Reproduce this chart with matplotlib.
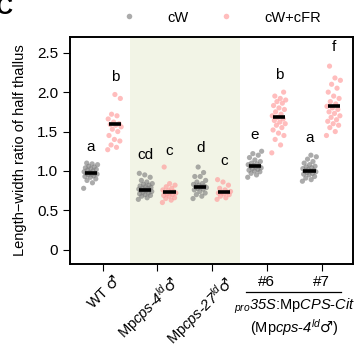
import numpy as np
import matplotlib
matplotlib.use("Agg")
import matplotlib.pyplot as plt
from matplotlib.lines import Line2D

plt.rcParams['font.family'] = ['Liberation Sans', 'DejaVu Sans']
plt.rcParams['mathtext.fontset'] = 'custom'
plt.rcParams['mathtext.rm'] = 'Liberation Sans'
plt.rcParams['mathtext.it'] = 'Liberation Sans:italic'
plt.rcParams['mathtext.bf'] = 'Liberation Sans:italic'   # italic digits
plt.rcParams['mathtext.sf'] = 'DejaVu Sans'              # male sign

MALE = r'$\mathsf{' + '\u2642' + '}$'

# data
wt_cw = [0.78, 0.85, 0.88, 0.90, 0.92, 0.93, 0.94, 0.95, 0.96, 0.96, 0.97, 0.97,
         0.98, 0.99, 1.00, 1.01, 1.02, 1.03, 1.04, 1.05, 1.06, 1.08, 1.09, 1.10]
wt_fr = [1.27, 1.30, 1.33, 1.38, 1.40, 1.45, 1.50, 1.53, 1.56, 1.58, 1.59, 1.60,
         1.62, 1.66, 1.70, 1.72, 1.92, 1.97]
cps4_cw = [0.64, 0.66, 0.68, 0.69, 0.70, 0.71, 0.72, 0.73, 0.74, 0.75, 0.75, 0.76,
           0.76, 0.77, 0.78, 0.78, 0.79, 0.80, 0.81, 0.82, 0.83, 0.84, 0.86, 0.88,
           0.92, 0.95, 0.97]
cps4_fr = [0.60, 0.63, 0.65, 0.66, 0.68, 0.69, 0.70, 0.71, 0.72, 0.73, 0.73, 0.74,
           0.75, 0.76, 0.78, 0.80, 0.82, 0.84, 1.05]
cps27_cw = [0.65, 0.68, 0.70, 0.72, 0.74, 0.76, 0.77, 0.78, 0.79, 0.80, 0.80, 0.81,
            0.82, 0.83, 0.84, 0.86, 0.88, 0.93, 0.93, 0.98, 1.05]
cps27_fr = [0.64, 0.66, 0.68, 0.70, 0.71, 0.72, 0.73, 0.73, 0.74, 0.76, 0.78, 0.82,
            0.86, 0.89]
l6_cw = [0.92, 0.95, 0.97, 0.99, 1.00, 1.01, 1.02, 1.03, 1.04, 1.05, 1.06, 1.06,
         1.07, 1.08, 1.09, 1.10, 1.12, 1.14, 1.17, 1.20, 1.22, 1.25]
l6_fr = [1.23, 1.33, 1.40, 1.45, 1.48, 1.52, 1.55, 1.58, 1.60, 1.62, 1.64, 1.66,
         1.68, 1.70, 1.72, 1.75, 1.78, 1.80, 1.83, 1.86, 1.88, 1.90, 1.92, 1.95, 2.00]
l7_cw = [0.87, 0.89, 0.91, 0.93, 0.95, 0.96, 0.97, 0.98, 0.99, 1.00, 1.00, 1.01,
         1.02, 1.03, 1.04, 1.05, 1.06, 1.08, 1.10, 1.12, 1.15, 1.18, 1.20]
l7_fr = [1.45, 1.50, 1.55, 1.58, 1.60, 1.63, 1.65, 1.68, 1.70, 1.73, 1.75, 1.78,
         1.80, 1.82, 1.85, 1.88, 1.92, 1.95, 2.00, 2.05, 2.10, 2.15, 2.18, 2.33]

cw_groups = [wt_cw, cps4_cw, cps27_cw, l6_cw, l7_cw]
fr_groups = [wt_fr, cps4_fr, cps27_fr, l6_fr, l7_fr]
cw_means = [0.97, 0.76, 0.80, 1.06, 1.00]
fr_means = [1.59, 0.73, 0.73, 1.68, 1.82]
cw_letters = ['a', 'cd', 'd', 'e', 'a']
fr_letters = ['b', 'c', 'c', 'b', 'f']
cw_letter_y = [1.22, 1.11, 1.20, 1.37, 1.33]
fr_letter_y = [2.10, 1.17, 1.04, 2.13, 2.48]

fig = plt.figure(figsize=(3.57, 3.52), dpi=100)
ax = fig.add_axes([0.196, 0.25, 0.792, 0.645])

ax.axvspan(0.5, 2.5, color='#f2f4e6', zorder=0, lw=0)

dodge = 0.22
for i in range(5):
    for vals, off, col, mean, let, ly in [
            (cw_groups[i], -dodge, '#7f7f7f', cw_means[i], cw_letters[i], cw_letter_y[i]),
            (fr_groups[i], dodge, '#ff9a9a', fr_means[i], fr_letters[i], fr_letter_y[i])]:
        n = len(vals)
        jit = (((np.arange(n) * 0.618034) % 1) - 0.5) * 0.26
        ax.scatter(i + off + jit, vals, s=14, color=col, alpha=0.65,
                   edgecolors='none', zorder=2)
        ax.plot([i + off - 0.11, i + off + 0.11], [mean, mean], color='black',
                lw=2.6, solid_capstyle='butt', zorder=3)
        ax.text(i + off, ly, let, ha='center', va='bottom', fontsize=11)

ax.set_xlim(-0.6, 4.57)
ax.set_ylim(-0.18, 2.70)
ax.set_yticks([0, 0.5, 1.0, 1.5, 2.0, 2.5])
ax.set_yticklabels(['0', '0.5', '1.0', '1.5', '2.0', '2.5'], fontsize=11)
ax.set_xticks(range(5))
ax.set_xticklabels([])
ax.tick_params(length=5, width=0.8)
for sp in ax.spines.values():
    sp.set_linewidth(1.4)
ax.set_ylabel('Length\u2212width ratio of half thallus', fontsize=10.5, labelpad=7)

# rotated genotype labels
rot_labels = ['WT ' + MALE,
              r'Mp$cps$-$\mathbf{4}^{ld}$' + MALE,
              r'Mp$cps$-$\mathbf{27}^{ld}$' + MALE]
for i, lab in enumerate(rot_labels):
    ax.annotate(lab, xy=(i, 0), xycoords=('data', 'axes fraction'),
                xytext=(8, -6), textcoords='offset points',
                rotation=45, ha='right', va='top', rotation_mode='anchor',
                fontsize=10.5)

# transgenic lines
xt = ax.get_xaxis_transform()
for i, lab in zip([3, 4], ['#6', '#7']):
    ax.annotate(lab, xy=(i, 0), xycoords=('data', 'axes fraction'),
                xytext=(0, -8), textcoords='offset points',
                ha='center', va='top', fontsize=11)
ax.add_line(Line2D([2.62, 4.36], [-0.125, -0.125], transform=xt,
                   color='black', lw=0.9, clip_on=False))
ax.text(3.5, -0.145, r'${}_{pro}\mathbf{35S}$:Mp$CPS$-$Cit$', transform=xt,
        ha='center', va='top', fontsize=10.5)
ax.text(3.5, -0.232, r'(Mp$cps$-$\mathbf{4}^{ld}$' + MALE + ')', transform=xt,
        ha='center', va='top', fontsize=10.5)

handles = [Line2D([], [], marker='o', ls='', color='#7f7f7f', alpha=0.65, markersize=4,
                  markeredgewidth=0),
           Line2D([], [], marker='o', ls='', color='#ff9a9a', alpha=0.65, markersize=4,
                  markeredgewidth=0)]
fig.legend(handles, ['cW', 'cW+cFR'], loc='center', bbox_to_anchor=(0.61, 0.95),
           ncol=2, frameon=False, fontsize=10.5, handletextpad=1.6, columnspacing=1.6)

fig.text(-0.012, 1.01, 'C', fontsize=17, fontweight='bold', va='top', ha='left')

fig.savefig('out.png', dpi=100)
